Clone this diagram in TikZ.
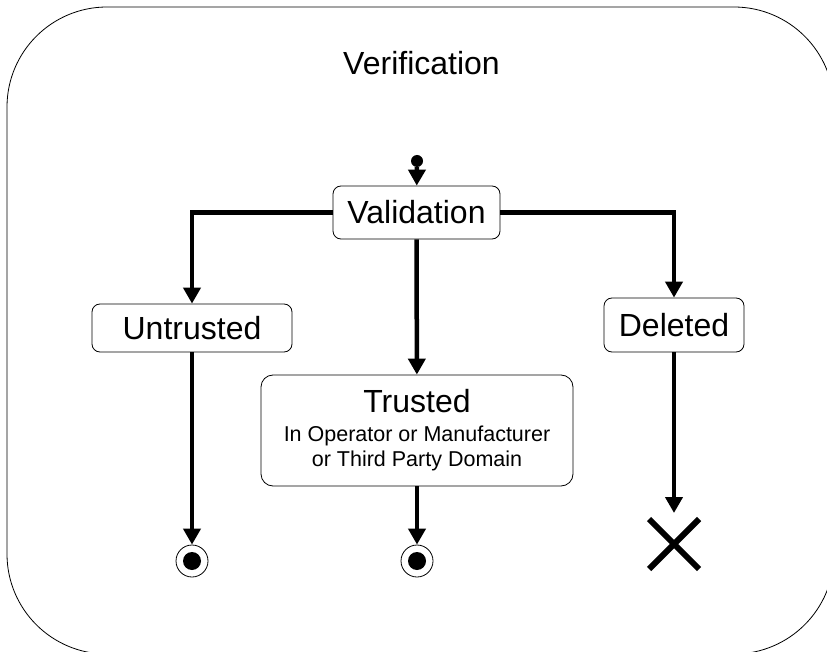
\documentclass[tikz,border=0pt]{standalone}
\usepackage{fontspec}
\setmainfont{Liberation Sans}
\usetikzlibrary{arrows.meta,shapes.misc}

\begin{document}
\begin{tikzpicture}[
    x=1pt,y=-1pt,
    statebox/.style={draw, rounded corners=8pt, line width=0.8pt, inner sep=0pt, font=\fontsize{32}{37}\selectfont},
    trans/.style={line width=4.5pt, -{Triangle[length=16pt,width=17pt]}},
    initstate/.style={circle, fill, inner sep=0pt, minimum size=12pt},
    finalstate/.style={circle, draw, line width=0.8pt, inner sep=0pt, minimum size=32pt,
      path picture={\fill (path picture bounding box.center) circle (9pt);}},
    killstate/.style={cross out, draw, line width=6pt, inner sep=0pt, outer sep=0pt, minimum size=50pt}
    ]
    \useasboundingbox (0, 0) rectangle (827, 652);
    \clip (0, 0) rectangle (827, 652);
    \draw[line width=0.8pt, rounded corners=100pt] (7, 7) rectangle (834, 654);
    \node[font=\fontsize{32}{37}\selectfont, anchor=base] (title) at (421.5, 75) {Verification};
    \node[initstate] (start) at (417, 161) {};
    \node[statebox, minimum width=167pt, minimum height=53pt] (valid) at (416.5, 212.5) {Validation};
    \node[statebox, minimum width=200pt, minimum height=48pt] (untr) at (192, 328) {Untrusted};
    \node[statebox, minimum width=140pt, minimum height=54pt] (del) at (674, 325) {Deleted};
    \node[statebox, rounded corners=12pt, minimum width=312pt, minimum height=111pt, align=center,
      font=\fontsize{21.5}{25}\selectfont] (trust) at (417, 430.5)
      {{\fontsize{32}{37}\selectfont Trusted}\\[4pt]In Operator or Manufacturer\\or Third Party Domain};
    \node[finalstate] (endu) at (192, 561) {};
    \node[finalstate] (endt) at (417, 561) {};
    \node[killstate] (stop) at (674, 544) {};
    \draw[trans] (start) -- (valid);
    \draw[trans] (valid.west) -| (untr.north);
    \draw[trans] (valid.east) -| (del.north);
    \draw[trans] (valid) -- (trust);
    \draw[trans] (untr) -- (endu);
    \draw[trans] (trust) -- (endt);
    \draw[trans, shorten >=6pt] (del) -- (stop);
  \end{tikzpicture}
\end{document}
